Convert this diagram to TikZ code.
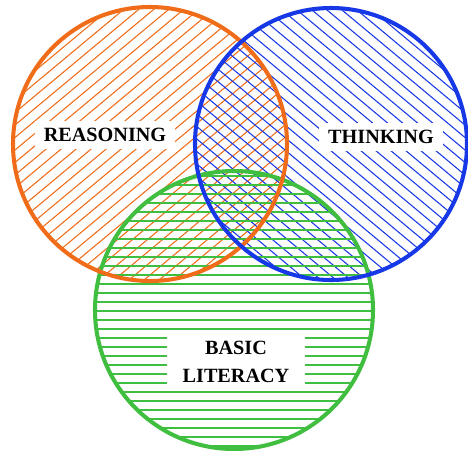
\documentclass[tikz,border=0pt]{standalone}
\usepackage{fontspec}
\setmainfont{Liberation Serif}
\usetikzlibrary{positioning}
\definecolor{reasonorange}{RGB}{240,108,24}
\definecolor{thinkblue}{RGB}{22,56,230}
\definecolor{literacygreen}{RGB}{64,190,64}
\tikzset{
  ring/.style={draw=#1, line width=2.3pt},
  hatch/.style={draw=#1, line width=0.6pt},
  setlabel/.style={
    rectangle, fill=white, inner xsep=5pt, inner ysep=4pt,
    text centered, align=center, text=black,
    font=\fontsize{11.5}{15.5}\selectfont\bfseries
  },
}

\begin{document}
\begin{tikzpicture}[x=0.02cm,y=-0.02cm]
    \useasboundingbox[fill=white] (0,0) rectangle (468,451);
    % hatching of the three sets
    \begin{scope}
      \clip (150,144) circle [radius=137];
      \foreach \i in {-360,-345,...,300}
        \draw[hatch=reasonorange] (\i,300) -- ++(360,-300);
    \end{scope}
    \begin{scope}
      \clip (331,144) circle [radius=136];
      \foreach \i in {-180,-165,...,480}
        \draw[hatch=thinkblue] (\i,0) -- ++(360,300);
    \end{scope}
    \begin{scope}
      \clip (234,310) circle [radius=139];
      \foreach \j in {176,185,...,450}
        \draw[hatch=literacygreen, line width=0.9pt] (90,\j) -- (380,\j);
    \end{scope}
    % labels
    \node[setlabel] (reasoning) at (105,135) {REASONING};
    \node[setlabel] (thinking)  at (381,137) {THINKING};
    \node[setlabel, inner xsep=9pt, inner ysep=5pt]
         (literacy) at (236,362) {BASIC\\LITERACY};
    % outlines
    \draw[ring=literacygreen] (234,310) circle [radius=139];
    \draw[ring=reasonorange]  (150,144) circle [radius=137];
    \draw[ring=thinkblue]     (331,144) circle [radius=136];
  \end{tikzpicture}
\end{document}
